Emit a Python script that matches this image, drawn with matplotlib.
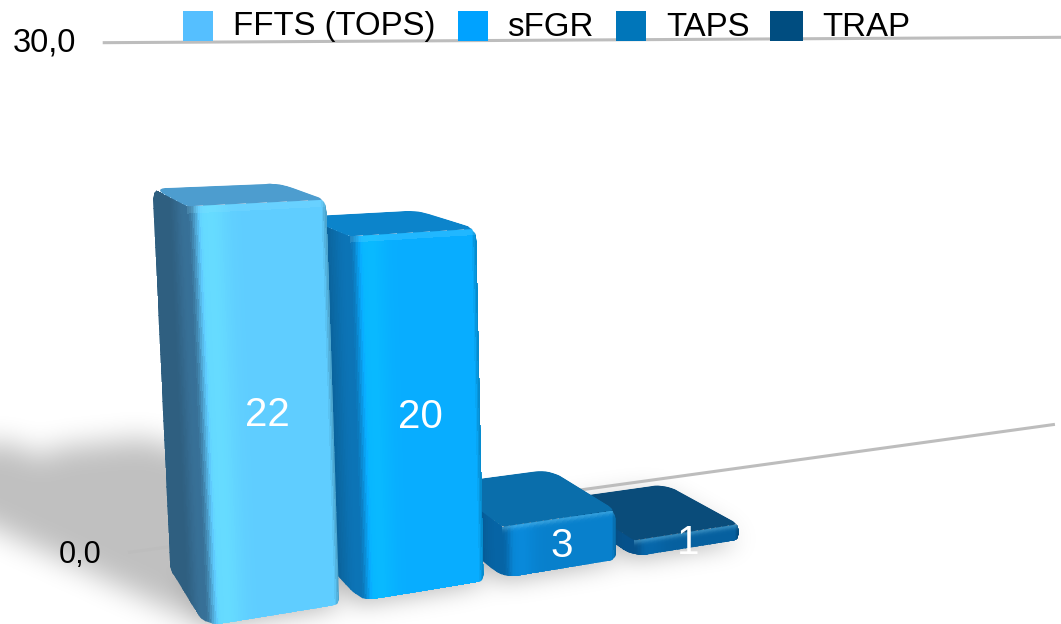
import numpy as np
import matplotlib
matplotlib.use("Agg")
import matplotlib.pyplot as plt
from matplotlib.colors import to_rgb
from matplotlib.path import Path
from matplotlib.patches import PathPatch, Rectangle

# ---- data ----
categories = ["FFTS (TOPS)", "sFGR", "TAPS", "TRAP"]
values = [22, 20, 3, 1]
value_labels = ["22", "20", "3", "1"]
axis_values = [0, 30]
axis_labels = ["0,0", "30,0"]

# ---- style ----
legend_colors = ["#55BFFF", "#00A2FF", "#0076BA", "#004D80"]
front_colors = ["#5FCDFF", "#08ADFF", "#0880CC", "#06609F"]
side_colors = ["#2F5F80", "#0A629A", "#05558C", "#054576"]
top_colors = ["#4D9DCF", "#0C84CB", "#0A6EAB", "#0A4C7A"]
legend_box_x = [183, 458, 616, 770]
legend_box_w = [30, 30, 30, 33]
legend_text_x = [233, 507, 666, 822]
FONT = "Liberation Sans"

# ---- the chart's 3D camera: (category, depth, value) -> pixel ----
B, C, H = 167.0, 0.044, 2.0
F, D, K = -15.84, 0.088, 1.5
G, E, M = -1.11, -0.00148, -19.26
X0, Y0 = 203.0, 622.0
SHEAR = -0.0236
SPACING = 1.02
BAR_W = 0.875
V_FRONT, V_BACK = -0.08, 1.06
WALL_V = 1.57
WALL_U = (-0.2, 8.48)


def P(u, v, y):
    u, v, y = np.asarray(u, float), np.asarray(v, float), np.asarray(y, float)
    w = 1 + C * u + D * v + E * y
    return (X0 + B * u + F * v + G * y) / w, (Y0 + H * u + K * v + M * y) / w + SHEAR * u * y


def round_poly(pts, radii):
    pts = np.asarray(pts, float)
    n = len(pts)
    out = []
    for i in range(n):
        p, a, b = pts[i], pts[i - 1], pts[(i + 1) % n]
        la, lb = np.linalg.norm(a - p), np.linalg.norm(b - p)
        rr = min(radii[i], 0.42 * la, 0.42 * lb)
        s, e = p + (a - p) / la * rr, p + (b - p) / lb * rr
        for t in np.linspace(0, 1, 9):
            out.append((1 - t) ** 2 * s + 2 * t * (1 - t) * p + t ** 2 * e)
    return np.array(out)


def corners(items):
    return np.array([[float(c) for c in P(*it)] for it in items])


def smooth(a, b, x):
    t = np.clip((x - a) / (b - a), 0, 1)
    return t * t * (3 - 2 * t)


def box_blur(a, size, passes=3):
    kernel = np.ones(size) / size
    for _ in range(passes):
        a = np.apply_along_axis(lambda m: np.convolve(m, kernel, mode="same"), 0, a)
        a = np.apply_along_axis(lambda m: np.convolve(m, kernel, mode="same"), 1, a)
    return a


fig = plt.figure(figsize=(10.61, 6.24), dpi=100)
ax = fig.add_axes([0, 0, 1, 1])
ax.axis("off")

# ---- cast shadows -----
STEP = 3
gx = np.arange(-150, 1211, STEP)
gy = np.arange(-60, 761, STEP)
GX, GY = np.meshgrid(gx, gy)
grid_pts = np.column_stack([GX.ravel(), GY.ravel()])
LIGHT_U, LIGHT_V = -1.55 / 22, 4.05 / 22


def hull(points):
    pts = sorted(map(tuple, points))

    def half(seq):
        h = []
        for p in seq:
            while len(h) > 1 and ((h[-1][0] - h[-2][0]) * (p[1] - h[-2][1])
                                  - (h[-1][1] - h[-2][1]) * (p[0] - h[-2][0])) <= 0:
                h.pop()
            h.append(p)
        return h[:-1]

    return np.array(half(pts) + half(pts[::-1]))


mask = np.zeros(GX.shape)
soft = np.zeros(GX.shape)
for i, val in enumerate(values):
    u0, u1 = i * SPACING, i * SPACING + BAR_W
    pts = []
    for u in (u0, u1):
        for v in (V_FRONT, V_BACK):
            pts.append(corners([(u, v, 0)])[0])
            pts.append(corners([(u + LIGHT_U * val, v + LIGHT_V * val, 0)])[0])
    inside = Path(hull(pts)).contains_points(grid_pts).reshape(GX.shape)
    mask = np.maximum(mask, inside)
    base = corners([(u0, V_FRONT, 0), (u1, V_FRONT, 0), (u1, V_BACK, 0), (u0, V_BACK, 0)]) + [0, 7]
    soft = np.maximum(soft, Path(base).contains_points(grid_pts).reshape(GX.shape))
alpha = 0.25 * box_blur(mask, 9) + 0.05 * box_blur(soft, 5)
rgba = np.zeros(GX.shape + (4,))
rgba[..., 3] = np.clip(alpha, 0, 1)
ax.imshow(rgba, extent=(gx[0] - STEP / 2, gx[-1] + STEP / 2, gy[-1] + STEP / 2, gy[0] - STEP / 2),
          aspect="auto", zorder=1, interpolation="bilinear")

# ---- back wall gridlines and axis labels ----
for val, lab in zip(axis_values, axis_labels):
    xs, ys = P(np.array(WALL_U), WALL_V, val)
    ax.plot(xs, ys, color="#BDBDBD", lw=2.2, solid_capstyle="butt", zorder=2)
    size = 22 if val == 0 else 23.5
    ax.text(xs[0] - 27, ys[0] + (3 if val == 0 else 0), lab, ha="right", va="center", fontsize=size,
            family=FONT, color="black", zorder=8)

# ---- bars, painted from the last to the first ----
for i in range(len(values) - 1, -1, -1):
    val = values[i]
    u0, u1 = i * SPACING, i * SPACING + BAR_W
    front, side, top = map(lambda c: np.array(to_rgb(c)), (front_colors[i], side_colors[i], top_colors[i]))
    z = 3 + (len(values) - i) * 0.5

    outline = corners([(u0, V_BACK, 0), (u0, V_BACK, val), (u1, V_BACK, val),
                       (u1, V_FRONT, val), (u1, V_FRONT, 0), (u0, V_FRONT, 0)])
    sil = round_poly(outline, [6, 12, 14, 12, 8, 16])
    clip = Path(np.vstack([sil, sil[0]]), closed=True)

    # left side
    vv = np.linspace(V_FRONT, V_BACK, 31)
    yy = np.linspace(0, val, 41)
    VV, YY = np.meshgrid(vv, yy)
    sx, sy = P(u0, VV, YY)
    vc = (vv[:-1] + vv[1:]) / 2
    shade = 1.0 + 0.18 * smooth(0.55, 0.0, vc)
    col = np.clip(side[None, None, :] * shade[None, :, None], 0, 1) * np.ones((len(yy) - 1, 1, 1))
    m = ax.pcolormesh(sx, sy, col, shading="flat", antialiased=False, linewidth=0, zorder=z)
    m.set_clip_path(clip, ax.transData)

    # front
    uu = np.linspace(u0, u1, 81)
    yy = np.linspace(0, val, 61)
    UU, YY = np.meshgrid(uu, yy)
    fx, fy = P(UU, V_FRONT, YY)
    uc = (uu[:-1] + uu[1:]) / 2 - u0
    yc = (yy[:-1] + yy[1:]) / 2
    prof = 1 + 0.07 * np.exp(-((uc - 0.14) / 0.10) ** 2)
    col = front[None, None, :] * prof[None, :, None] * np.ones((len(yc), 1, 1))
    edge_l = smooth(0.0, 0.09, uc)[None, :, None]
    edge_r = smooth(BAR_W, BAR_W - 0.04, uc)[None, :, None]
    col = side * 1.18 * (1 - edge_l) + col * edge_l
    col = (front * 0.8) * (1 - edge_r) + col * edge_r
    glow = np.exp(-((val - yc) / 0.22) ** 2)[:, None, None]
    col = col * (1 - 0.3 * glow) + np.array([0.6, 0.9, 1.0]) * 0.3 * glow
    m = ax.pcolormesh(fx, fy, np.clip(col, 0, 1), shading="flat", antialiased=False, linewidth=0, zorder=z + 0.1)
    m.set_clip_path(clip, ax.transData)

    # top
    tops = round_poly(corners([(u0, V_FRONT, val), (u0, V_BACK, val), (u1, V_BACK, val), (u1, V_FRONT, val)]),
                      [3, 16, 16, 3])
    patch = PathPatch(Path(np.vstack([tops, tops[0]]), closed=True), facecolor=top, edgecolor="none", zorder=z + 0.2)
    ax.add_patch(patch)
    patch.set_clip_path(clip, ax.transData)

    # value label
    lx, ly = P(u0 + 0.5 * BAR_W + 0.01, V_FRONT, val / 2)
    ax.text(float(lx), float(ly) + 3, value_labels[i], color="white", fontsize=29, family=FONT,
            ha="center", va="center", zorder=9)

# ---- legend -----
for name, c, bx, bw, tx in zip(categories, legend_colors, legend_box_x, legend_box_w, legend_text_x):
    ax.add_patch(Rectangle((bx, 11), bw, 30, facecolor=c, edgecolor="none", zorder=10))
    ax.text(tx, 27, name, fontsize=23.8, family=FONT, color="black", ha="left", va="center", zorder=10)

ax.set_xlim(0, 1061)
ax.set_ylim(624, 0)
fig.savefig("out.png", dpi=100)
